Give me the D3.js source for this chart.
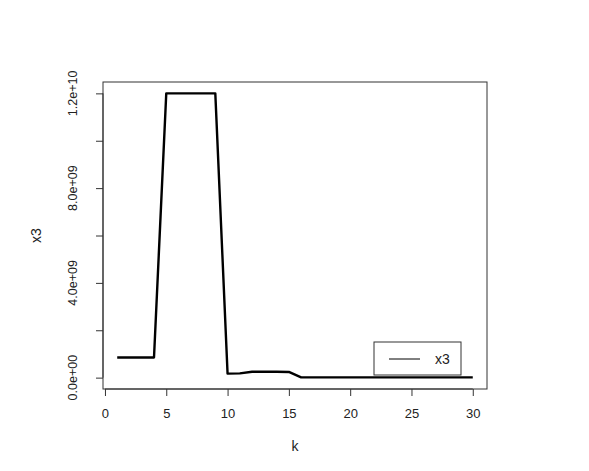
<!DOCTYPE html>
<html>
<head>
<meta charset="utf-8">
<script src="https://cdn.jsdelivr.net/npm/d3@7"></script>
<style>
  body { margin: 0; background: #fff; }
  svg text { font-family: "Liberation Sans", Arial, sans-serif; fill: #222; }
</style>
</head>
<body>
<div id="chart"></div>
<script>
// values
const k = d3.range(1, 31);
const x3 = [
  8.5e8, 8.5e8, 8.5e8, 8.5e8, 1.2e10, 1.2e10, 1.2e10, 1.2e10, 1.2e10, 1.7e8,
  1.8e8, 2.5e8, 2.5e8, 2.5e8, 2.4e8, 1e7, 1e7, 1e7, 1e7, 1e7,
  1e7, 1e7, 1e7, 1e7, 1e7, 1e7, 1e7, 1e7, 1e7, 1e7,
];
const xTicks = [0, 5, 10, 15, 20, 25, 30];
const yTicks = [0, 2e9, 4e9, 6e9, 8e9, 1e10, 1.2e10];
const yLabelled = [0, 4e9, 8e9, 1.2e10];
const seriesName = 'x3';

const width = 589;
const height = 471;
const margin = { top: 82, right: 102, bottom: 82, left: 103 };

const svg = d3.select('#chart').append('svg')
  .attr('width', width)
  .attr('height', height);

// R style: pad the data range by 4% on each side
const xPad = (d3.max(k) - d3.min(k)) * 0.04;
const yPad = (d3.max(x3) - 0) * 0.04;
const xScale = d3.scaleLinear()
  .domain([d3.min(k) - xPad, d3.max(k) + xPad])
  .range([margin.left, width - margin.right]);
const yScale = d3.scaleLinear()
  .domain([0 - yPad, 1.2e10 + yPad])
  .range([height - margin.bottom, margin.top]);

// R's scientific labels, e.g. 4.0e+09
const sci = (v) => {
  const [m, e] = v.toExponential(1).split('e');
  const n = Math.abs(+e);
  return `${m}e${+e < 0 ? '-' : '+'}${n < 10 ? '0' + n : n}`;
};

// plot box
svg.append('rect')
  .attr('x', margin.left)
  .attr('y', margin.top)
  .attr('width', width - margin.left - margin.right)
  .attr('height', height - margin.top - margin.bottom)
  .attr('fill', 'none')
  .attr('stroke', '#333')
  .attr('stroke-width', 1);

// x axis
const gx = svg.append('g')
  .attr('transform', `translate(0,${height - margin.bottom})`)
  .call(d3.axisBottom(xScale).tickValues(xTicks).tickSize(7).tickPadding(13));
gx.select('.domain').remove();
gx.append('line')
  .attr('x1', xScale(xTicks[0]))
  .attr('x2', xScale(xTicks[xTicks.length - 1]))
  .attr('stroke', '#333');
gx.selectAll('.tick line').attr('stroke', '#333');
gx.selectAll('.tick text').attr('font-size', '13px');

// y axis
const gy = svg.append('g')
  .attr('transform', `translate(${margin.left},0)`)
  .call(d3.axisLeft(yScale).tickValues(yTicks).tickSize(7).tickFormat(''));
gy.select('.domain').remove();
gy.append('line')
  .attr('y1', yScale(yTicks[0]))
  .attr('y2', yScale(yTicks[yTicks.length - 1]))
  .attr('stroke', '#333');
gy.selectAll('.tick line').attr('stroke', '#333');
gy.selectAll('.ylab')
  .data(yLabelled)
  .join('text')
    .attr('class', 'ylab')
    .attr('transform', d => `translate(-26,${yScale(d)}) rotate(-90)`)
    .attr('text-anchor', 'middle')
    .attr('font-size', '12.5px')
    .text(sci);

// axis titles
svg.append('text')
  .attr('x', (margin.left + width - margin.right) / 2)
  .attr('y', height - 20)
  .attr('text-anchor', 'middle')
  .attr('font-size', '14px')
  .text('k');
svg.append('text')
  .attr('transform', `translate(41,${(margin.top + height - margin.bottom) / 2}) rotate(-90)`)
  .attr('text-anchor', 'middle')
  .attr('font-size', '14px')
  .text(seriesName);

// the series
const drawLine = d3.line()
  .x((d, i) => xScale(k[i]))
  .y(d => yScale(d));
svg.append('path')
  .datum(x3)
  .attr('fill', 'none')
  .attr('stroke', '#000')
  .attr('stroke-width', 2.4)
  .attr('stroke-linejoin', 'round')
  .attr('d', drawLine);

// legend, bottom right inside the box
const legend = svg.append('g').attr('transform', 'translate(374,342)');
legend.append('rect')
  .attr('width', 87)
  .attr('height', 33)
  .attr('fill', '#fff')
  .attr('stroke', '#333');
legend.append('line')
  .attr('x1', 15).attr('x2', 46)
  .attr('y1', 17).attr('y2', 17)
  .attr('stroke', '#000')
  .attr('stroke-width', 1);
legend.append('text')
  .attr('x', 61)
  .attr('y', 22)
  .attr('font-size', '14px')
  .text(seriesName);
</script>
</body>
</html>
